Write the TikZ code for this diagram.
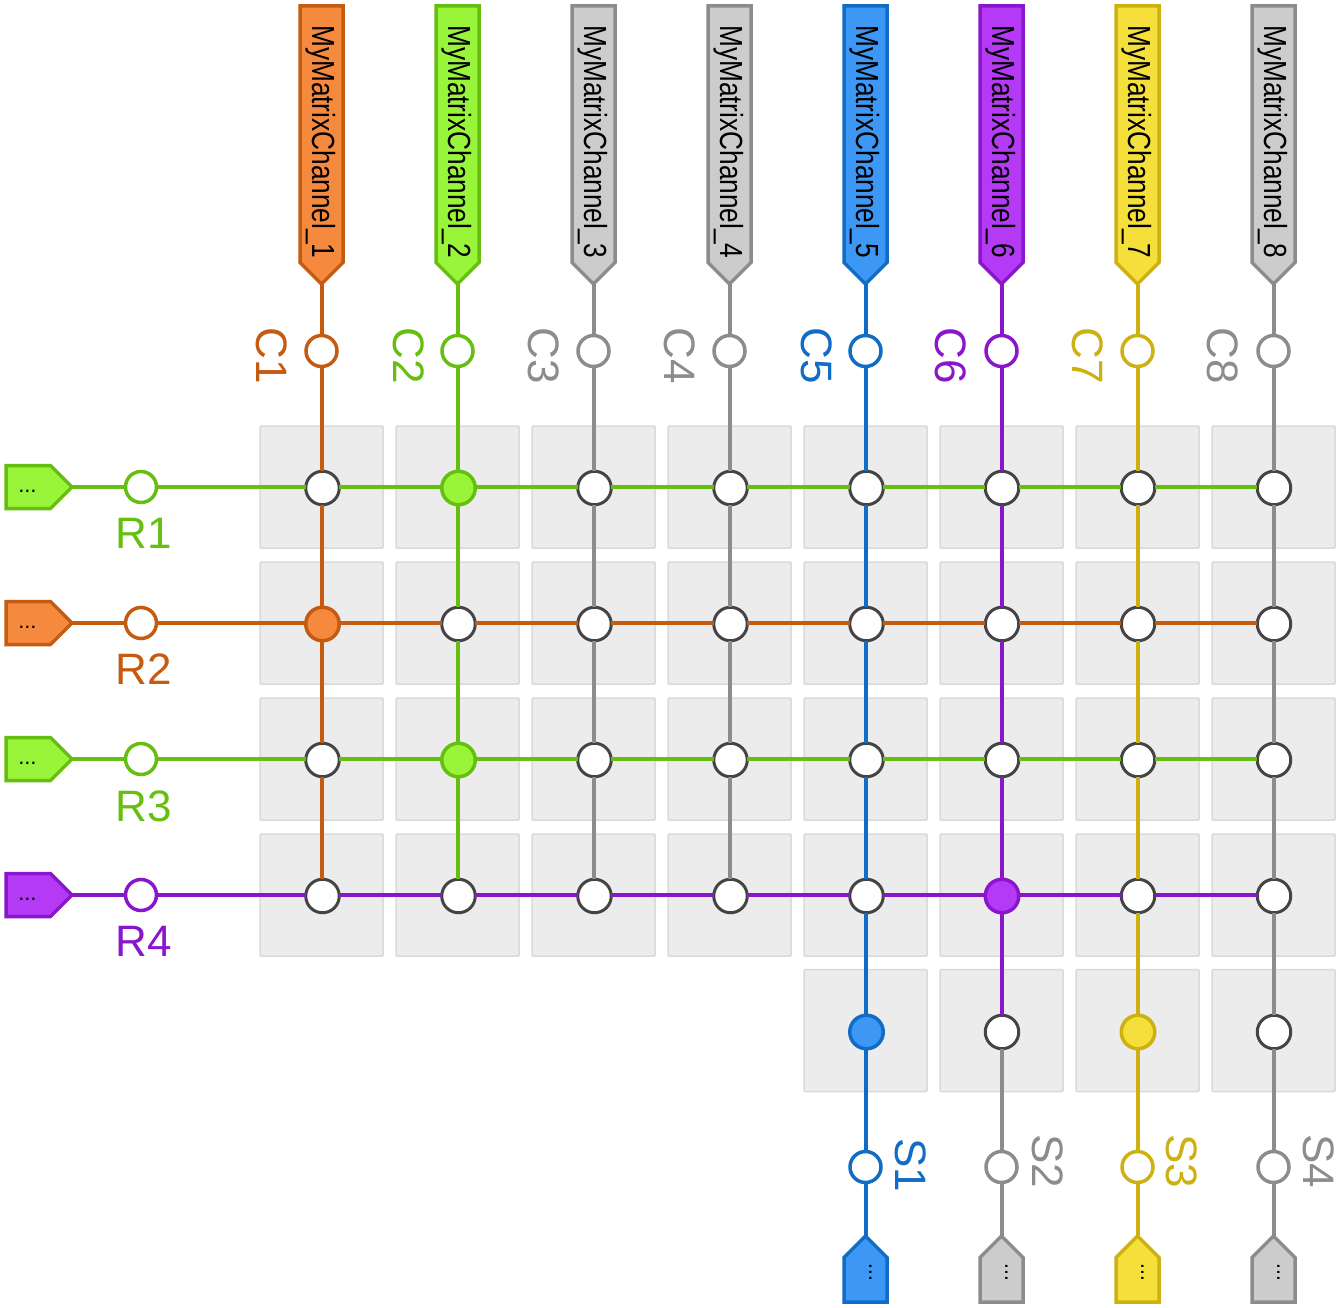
\documentclass[tikz,border=0pt]{standalone}
\usepackage{fontspec}
\setmainfont{Liberation Sans}
\usetikzlibrary{shapes.symbols}
\definecolor{oF}{HTML}{F58A3F}\definecolor{oS}{HTML}{C55A11}
\definecolor{gF}{HTML}{98F53A}\definecolor{gS}{HTML}{66BF10}
\definecolor{nF}{HTML}{CCCCCC}\definecolor{nS}{HTML}{8C8C8C}
\definecolor{bF}{HTML}{3D97F5}\definecolor{bS}{HTML}{116CC6}
\definecolor{pF}{HTML}{B43AF5}\definecolor{pS}{HTML}{8A16CC}
\definecolor{yF}{HTML}{F5DF3A}\definecolor{yS}{HTML}{CDB012}
\definecolor{cellF}{HTML}{ECECEC}\definecolor{cellS}{HTML}{DADADA}
\definecolor{xpS}{HTML}{444444}
\newcommand{\shifted}[2]{\raisebox{#1}{\smash{#2}}}
\tikzset{
  cellbox/.style={rectangle,rounded corners=1pt,fill=cellF,draw=cellS,line width=1.5pt,minimum width=123pt,minimum height=122pt,inner sep=0pt,outer sep=0pt},
  portc/.style={circle,fill=white,line width=3.5pt,minimum size=31pt,inner sep=0pt,outer sep=0pt},
  xpoint/.style={circle,fill=white,draw=xpS,line width=3pt,minimum size=33.5pt,inner sep=0pt,outer sep=0pt},
  wire/.style={line width=4pt},
  pill/.style={signal,signal to=east,signal pointer angle=90,line width=3.5pt,inner sep=0pt,outer sep=0pt,font=\fontsize{32}{32}\selectfont,text=black},
  biglabel/.style={font=\fontsize{44}{44}\selectfont,inner sep=0pt},
  xp12/.style={fill=gF,draw=gS,line width=3.5pt},
  xp21/.style={fill=oF,draw=oS,line width=3.5pt},
  xp32/.style={fill=gF,draw=gS,line width=3.5pt},
  xp46/.style={fill=pF,draw=pS,line width=3.5pt},
  xp55/.style={fill=bF,draw=bS,line width=3.5pt},
  xp57/.style={fill=yF,draw=yS,line width=3.5pt},
}
\begin{document}
\begin{tikzpicture}[x=1pt,y=-1pt]
\useasboundingbox (0,0) rectangle (1342,1308);
% background cells
\foreach \ro/\yy in {1/487,2/623,3/759,4/895}
  \foreach \co/\xx in {1/321.5,2/457.5,3/593.5,4/729.5,5/865.5,6/1001.5,7/1137.5,8/1273.5}
    \node[cellbox] (cell-\ro-\co) at (\xx,\yy) {};
\foreach \co/\xx in {5/865.5,6/1001.5,7/1137.5,8/1273.5}
  \node[cellbox] (cell-5-\co) at (\xx,1030.5) {};
% crosspoints
\foreach \ro/\yy in {1/488,2/624,3/760,4/896}
  \foreach \co/\xx in {1/322.5,2/458.5,3/594.5,4/730.5,5/866.5,6/1002,7/1138,8/1274}
    \node[xpoint,xp\ro\co/.try] (X-\ro-\co) at (\xx,\yy) {};
\foreach \co/\xx in {5/866.5,6/1002,7/1138,8/1274}
  \node[xpoint,xp5\co/.try] (X-5-\co) at (\xx,1032) {};
% columns
\foreach \co/\xx/\fillc/\linec/\lx in {1/321.5/oF/oS/272,2/457.5/gF/gS/409,3/593.5/nF/nS/544,4/729.5/nF/nS/680,5/865.5/bF/bS/817,6/1001.5/pF/pS/951,7/1137.5/yF/yS/1088,8/1273.5/nF/nS/1223}{
  \node[pill,rotate=-90,anchor=east,fill=\fillc,draw=\linec,minimum width=278pt,minimum height=43pt,text width=218pt,align=left] (CH-\co) at (\xx,284) {\shifted{-18pt}{\scalebox{.82}[1]{MyMatrixChannel\_\co}}};
  \node[portc,draw=\linec] (CP-\co) at (\xx,351) {};
  \node[biglabel,text=\linec,rotate=-90] (CL-\co) at (\lx,356) {C\co};
  \draw[wire,draw=\linec] (CH-\co.east) -- (CP-\co.north);
  \draw[wire,draw=\linec] (CP-\co.south) -- (CP-\co.south |- X-1-\co.north);
  \draw[wire,draw=\linec] (CP-\co |- X-1-\co.south) -- (CP-\co |- X-2-\co.north);
  \draw[wire,draw=\linec] (CP-\co |- X-2-\co.south) -- (CP-\co |- X-3-\co.north);
  \draw[wire,draw=\linec] (CP-\co |- X-3-\co.south) -- (CP-\co |- X-4-\co.north);
}
\foreach \co/\linec in {5/bS,6/pS,7/yS,8/nS}
  \draw[wire,draw=\linec] (CP-\co |- X-4-\co.south) -- (CP-\co |- X-5-\co.north);
% rows
\foreach \ro/\yy/\fillc/\linec/\lbly in {1/487/gF/gS/533,2/623/oF/oS/669,3/759/gF/gS/806,4/895/pF/pS/941}{
  \node[pill,anchor=east,fill=\fillc,draw=\linec,minimum width=66pt,minimum height=43pt,text width=20pt,align=left,font=\fontsize{22}{22}\selectfont] (RH-\ro) at (72,\yy) {\shifted{-10.5pt}{...}};
  \node[portc,draw=\linec] (RP-\ro) at (141,\yy) {};
  \node[biglabel,text=\linec] (RL-\ro) at (144,\lbly) {R\ro};
  \draw[wire,draw=\linec] (RH-\ro.east) -- (RP-\ro.west);
  \draw[wire,draw=\linec] (RP-\ro.east) -- (RP-\ro.east -| X-\ro-1.west);
  \draw[wire,draw=\linec] (RP-\ro -| X-\ro-1.east) -- (RP-\ro -| X-\ro-2.west);
  \draw[wire,draw=\linec] (RP-\ro -| X-\ro-2.east) -- (RP-\ro -| X-\ro-3.west);
  \draw[wire,draw=\linec] (RP-\ro -| X-\ro-3.east) -- (RP-\ro -| X-\ro-4.west);
  \draw[wire,draw=\linec] (RP-\ro -| X-\ro-4.east) -- (RP-\ro -| X-\ro-5.west);
  \draw[wire,draw=\linec] (RP-\ro -| X-\ro-5.east) -- (RP-\ro -| X-\ro-6.west);
  \draw[wire,draw=\linec] (RP-\ro -| X-\ro-6.east) -- (RP-\ro -| X-\ro-7.west);
  \draw[wire,draw=\linec] (RP-\ro -| X-\ro-7.east) -- (RP-\ro -| X-\ro-8.west);
}
% bottom outputs
\foreach \so/\co/\xx/\fillc/\linec/\lx/\lyy in {1/5/865.5/bF/bS/911/1165,2/6/1001.5/nF/nS/1048/1161,3/7/1137.5/yF/yS/1182/1161,4/8/1273.5/nF/nS/1319/1161}{
  \node[portc,draw=\linec] (SP-\so) at (\xx,1167) {};
  \node[biglabel,text=\linec,rotate=-90] (SL-\so) at (\lx,\lyy) {S\so};
  \node[pill,rotate=90,anchor=east,fill=\fillc,draw=\linec,minimum width=66pt,minimum height=43pt,text width=4pt,align=left,font=\fontsize{22}{22}\selectfont] (SH-\so) at (\xx,1236) {\shifted{-12pt}{...}};
  \draw[wire,draw=\linec] (SP-\so |- X-5-\co.south) -- (SP-\so.north);
  \draw[wire,draw=\linec] (SP-\so.south) -- (SH-\so.east);
}
\end{tikzpicture}
\end{document}
